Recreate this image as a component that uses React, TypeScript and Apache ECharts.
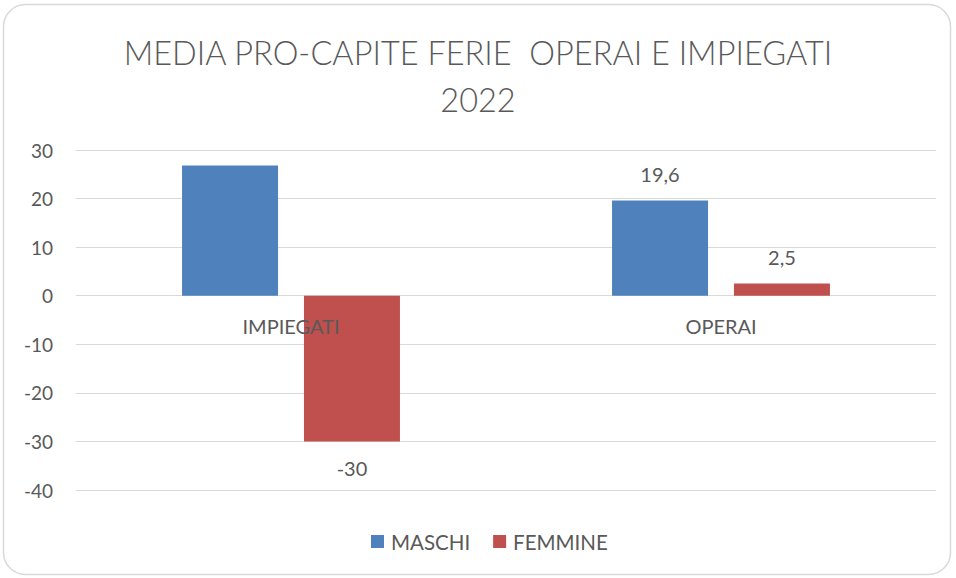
import React, { useEffect, useRef } from "react";
import * as echarts from "echarts";

const categories = ["IMPIEGATI", "OPERAI"];
const maschi = [26.8, 19.6];
const femmine = [-30, 2.5];
const showMaschiLabel = [false, true];
const yTicks = [-40, 30, 10];
const titleText = "MEDIA PRO-CAPITE FERIE  OPERAI E IMPIEGATI\n2022";

const FONT = "Lato, 'Open Sans', sans-serif";
const TXT = "#595959";

const fmt = (v: number) => String(v).replace(".", ",");

export default function App() {
  const ref = useRef<HTMLDivElement>(null);
  useEffect(() => {
    if (!ref.current) return;
    const chart = echarts.init(ref.current, null, { renderer: "svg" });
    const labelStyle = {
      show: true,
      fontFamily: FONT,
      fontSize: 20,
      color: TXT,
      distance: 17,
      formatter: (p: any) => fmt(p.value),
    };
    chart.setOption({
      animation: false,
      backgroundColor: "#fff",
      textStyle: { fontFamily: FONT },
      graphic: [
        {
          type: "rect",
          shape: { x: 3.5, y: 4.5, width: 947, height: 570, r: 22 },
          style: { fill: "none", stroke: "#d9d9d9", lineWidth: 1.5 },
          silent: true,
          z: -10,
        },
      ],
      title: {
        text: titleText,
        left: "center",
        top: 24,
        textStyle: {
          fontFamily: FONT,
          fontWeight: 300,
          fontSize: 32.5,
          color: TXT,
          lineHeight: 47,
        },
      },
      legend: {
        top: 526,
        left: 366,
        itemWidth: 13,
        itemHeight: 13,
        itemGap: 23,
        icon: "rect",
        textStyle: { fontFamily: FONT, fontSize: 20.5, color: TXT, padding: [0, 0, 0, 2] },
        data: ["MASCHI", "FEMMINE"],
      },
      grid: { left: 76, right: 20, top: 150, bottom: 88, containLabel: false },
      xAxis: {
        type: "category",
        data: categories,
        position: "bottom",
        offset: -194,
        axisLine: { show: false },
        axisTick: { show: false },
        axisLabel: { fontFamily: FONT, fontSize: 20, color: TXT, margin: 20 },
        z: 10,
      },
      yAxis: {
        type: "value",
        min: yTicks[0],
        max: yTicks[1],
        interval: yTicks[2],
        axisLine: { show: false },
        axisTick: { show: false },
        axisLabel: { fontFamily: FONT, fontSize: 19, color: TXT, margin: 23 },
        splitLine: { lineStyle: { color: "#d9d9d9", width: 1 } },
      },
      series: [
        {
          name: "MASCHI",
          type: "bar",
          barWidth: 96,
          barGap: "27%",
          itemStyle: { color: "#4f81bd" },
          data: maschi.map((v, i) => ({
            value: v,
            label: { ...labelStyle, show: showMaschiLabel[i], position: v >= 0 ? "top" : "bottom" },
          })),
        },
        {
          name: "FEMMINE",
          type: "bar",
          barWidth: 96,
          itemStyle: { color: "#c0504d" },
          data: femmine.map((v) => ({
            value: v,
            label: { ...labelStyle, position: v >= 0 ? "top" : "bottom" },
          })),
        },
      ],
    });
    return () => chart.dispose();
  }, []);
  return (
    <div
      ref={ref}
      style={{ position: "absolute", left: 0, top: 0, width: 956, height: 578 }}
    />
  );
}
